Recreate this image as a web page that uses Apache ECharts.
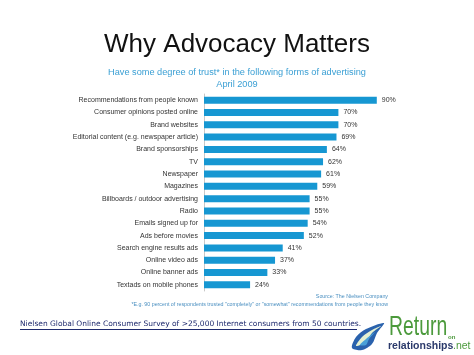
<!DOCTYPE html>
<html><head><meta charset="utf-8">
<script src="https://cdn.jsdelivr.net/npm/echarts@6/dist/echarts.min.js"></script>
<style>html,body{margin:0;padding:0;background:#fff}#c{width:474px;height:355px}</style>
</head><body><div id="c"></div>
<script>
const categories = ["Recommendations from people known","Consumer opinions posted online","Brand websites","Editorial content (e.g. newspaper article)","Brand sponsorships","TV","Newspaper","Magazines","Billboards / outdoor advertising","Radio","Emails signed up for","Ads before movies","Search engine results ads","Online video ads","Online banner ads","Textads on mobile phones"];
const values = [90,70,70,69,64,62,61,59,55,55,54,52,41,37,33,24];
const chart = echarts.init(document.getElementById('c'));
const F = 'Liberation Sans, Arial, sans-serif';
chart.setOption({
  animation:false,
  backgroundColor:'#fff',
  grid:{left:204,top:94,width:192,height:197},
  xAxis:{type:'value',min:0,max:100,show:false},
  yAxis:{type:'category',data:categories,inverse:true,
    axisLine:{show:true,lineStyle:{color:'#c8c8c8',width:1}},
    axisTick:{show:false},
    axisLabel:{fontSize:7,color:'#333',fontFamily:F,margin:6}},
  series:[{type:'bar',data:values,barWidth:7,itemStyle:{color:'#1697d2'},
    label:{show:true,position:'right',formatter:'{c}%',fontSize:7,color:'#333',fontFamily:F,distance:5}}],
  graphic:[
    {type:'text',x:237,y:32,style:{text:'Why Advocacy Matters',font:'26px '+F,fill:'#111',align:'center'}},
    {type:'text',x:237,y:68,style:{text:'Have some degree of trust* in the following forms of advertising',font:'9.2px '+F,fill:'#3a9fd4',align:'center'}},
    {type:'text',x:237,y:80,style:{text:'April 2009',font:'9.2px '+F,fill:'#3a9fd4',align:'center'}},
    {type:'text',x:388,y:294,style:{text:'Source: The Nielsen Company',font:'5.3px '+F,fill:'#4a8fc0',align:'right'}},
    {type:'text',x:388,y:302,style:{text:'*E.g. 90 percent of respondents trusted "completely" or "somewhat" recommendations from people they know',font:'5.3px '+F,fill:'#4a8fc0',align:'right'}},
    {type:'text',x:20,y:320,style:{text:'Nielsen Global Online Consumer Survey of >25,000 Internet consumers from 50 countries.',font:'7.5px DejaVu Sans, sans-serif',fill:'#1f2a6e'}},
    {type:'line',shape:{x1:20,y1:329.5,x2:357,y2:329.5},style:{stroke:'#1f2a6e',lineWidth:1}},
    {type:'polygon',shape:{points:[[352,348],[356,337],[366,329],[384,323],[377,333],[372,344],[362,350]],smooth:0.3},style:{fill:'#2a62ad'}},
    {type:'polygon',shape:{points:[[356,346],[362,337],[372,330],[381,326],[372,333],[366,342]],smooth:0.3},style:{fill:'#e4f1d2'}},
    {type:'polygon',shape:{points:[[360,345],[366,339],[375,332],[369,339],[366,345]],smooth:0.3},style:{fill:'#4aa0d8'}},
    {type:'text',x:389,y:313,scaleX:0.68,originX:0,originY:0,style:{text:'Return',font:'28.5px '+F,fill:'#4c9a3c'}},
    {type:'text',x:448,y:334,style:{text:'on',font:'bold 6px '+F,fill:'#4c9a3c'}},
    {type:'text',x:388,y:341,style:{text:'relationships',font:'bold 10.5px '+F,fill:'#2b3a6b'}},
    {type:'text',x:453,y:341,style:{text:'.net',font:'10.5px '+F,fill:'#4c9a3c'}}
  ]
});
</script></body></html>
